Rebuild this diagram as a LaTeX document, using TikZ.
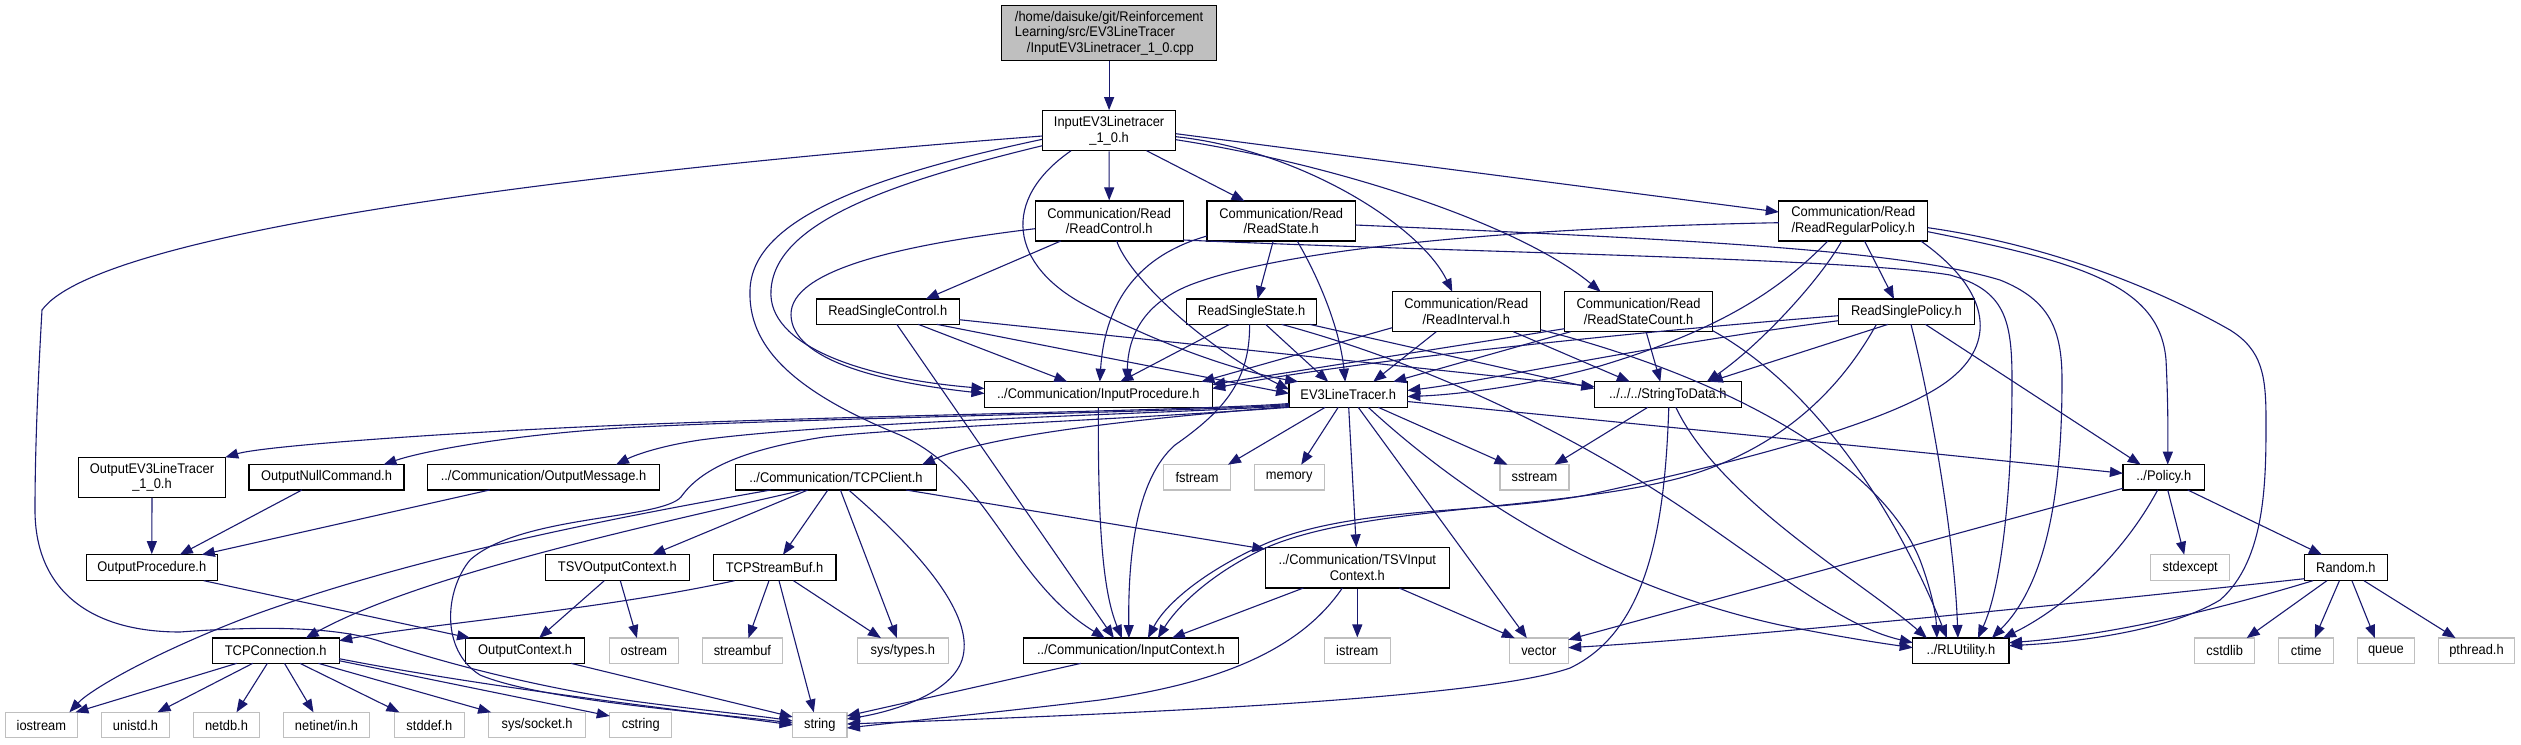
\documentclass[tikz,border=0pt]{standalone}
\usepackage{fontspec}
\setmainfont{Liberation Sans}[FakeStretch=0.92]
\usetikzlibrary{arrows.meta,calc}
\definecolor{edgecol}{HTML}{191970}
\definecolor{greyext}{HTML}{BFBFBF}
\begin{document}
\begin{tikzpicture}[x=1pt,y=-1pt,
  font=\fontsize{14}{15.5}\selectfont,
  doc/.style={draw=black,line width=1.2pt,fill=white,inner sep=0pt,align=center},
  ext/.style={draw=greyext,line width=1.2pt,fill=white,inner sep=0pt,align=center},
  conn/.style={draw=edgecol,line width=1.1pt,-{Triangle[length=13pt,width=10pt]}}]
\fill[white] (0,0) rectangle (2521,744);
\path[use as bounding box] (0,0) rectangle (2521,744);
% ---------- nodes ----------
\node[doc,fill=greyext,minimum width=215pt,minimum height=55pt,align=left] (root) at (1109.1,33.2) {/home/daisuke/git/Reinforcement\\Learning/src/EV3LineTracer\\\hspace*{12pt}/InputEV3Linetracer\_1\_0.cpp};
\node[doc,minimum width=133.5pt,minimum height=40pt] (ie) at (1109.1,130.7) {InputEV3Linetracer\\\_1\_0.h};
\node[doc,minimum width=148.2pt,minimum height=40pt] (rc) at (1109.2,221) {Communication/Read\\/ReadControl.h};
\node[doc,minimum width=148.5pt,minimum height=40pt] (rs) at (1281.2,221) {Communication/Read\\/ReadState.h};
\node[doc,minimum width=149pt,minimum height=40pt] (rrp) at (1853.3,221) {Communication/Read\\/ReadRegularPolicy.h};
\node[doc,minimum width=142.9pt,minimum height=25.3pt] (rsctl) at (887.8,311.7) {ReadSingleControl.h};
\node[doc,minimum width=130.2pt,minimum height=25.3pt] (rss) at (1251.6,311.7) {ReadSingleState.h};
\node[doc,minimum width=148.2pt,minimum height=40pt] (ri) at (1466.3,311.7) {Communication/Read\\/ReadInterval.h};
\node[doc,minimum width=148.2pt,minimum height=40pt] (rsc) at (1638.6,311.7) {Communication/Read\\/ReadStateCount.h};
\node[doc,minimum width=136pt,minimum height=25.3pt] (rsp) at (1906.4,311.7) {ReadSinglePolicy.h};
\node[doc,minimum width=227.7pt,minimum height=25.6pt] (ip) at (1098.3,394.5) {../Communication/InputProcedure.h};
\node[doc,minimum width=118.3pt,minimum height=25.6pt] (ev3) at (1348.2,394.5) {EV3LineTracer.h};
\node[doc,minimum width=146.9pt,minimum height=25.6pt] (std) at (1667.8,394.5) {../../../StringToData.h};
\node[doc,minimum width=146.5pt,minimum height=40pt] (oev) at (152,477.3) {OutputEV3LineTracer\\\_1\_0.h};
\node[doc,minimum width=155.1pt,minimum height=25.3pt] (onc) at (326.5,477.3) {OutputNullCommand.h};
\node[doc,minimum width=232.3pt,minimum height=25.3pt] (om) at (543.5,477.3) {../Communication/OutputMessage.h};
\node[doc,minimum width=200.8pt,minimum height=25.3pt] (tcpc) at (835.9,477.3) {../Communication/TCPClient.h};
\node[ext,minimum width=66.5pt,minimum height=25.3pt] (fstream) at (1197,477.3) {fstream};
\node[ext,minimum width=69.8pt,minimum height=25.3pt] (memory) at (1289.2,477.3) {memory};
\node[ext,minimum width=69pt,minimum height=25.3pt] (sstream) at (1534.5,477.3) {sstream};
\node[doc,minimum width=81.6pt,minimum height=25.3pt] (pol) at (2163.7,477.3) {../Policy.h};
\node[doc,minimum width=130.6pt,minimum height=26pt] (op) at (151.8,567.7) {OutputProcedure.h};
\node[doc,minimum width=144pt,minimum height=26pt] (tsvo) at (617.3,567.7) {TSVOutputContext.h};
\node[doc,minimum width=122.8pt,minimum height=26pt] (tcpsb) at (774.5,567.7) {TCPStreamBuf.h};
\node[doc,minimum width=184pt,minimum height=40.7pt] (tsvi) at (1357.3,567.7) {../Communication/TSVInput\\Context.h};
\node[ext,minimum width=79.2pt,minimum height=26pt] (stdexcept) at (2190.2,567.7) {stdexcept};
\node[doc,minimum width=82.8pt,minimum height=26pt] (rand) at (2345.9,567.7) {Random.h};
\node[doc,minimum width=127pt,minimum height=25.3pt] (tcpconn) at (275.7,650.7) {TCPConnection.h};
\node[doc,minimum width=118.8pt,minimum height=25.3pt] (oc) at (525.1,650.7) {OutputContext.h};
\node[ext,minimum width=69pt,minimum height=25.3pt] (ostream) at (643.9,650.7) {ostream};
\node[ext,minimum width=80pt,minimum height=25.3pt] (streambuf) at (742.4,650.7) {streambuf};
\node[ext,minimum width=90.6pt,minimum height=25.3pt] (systypes) at (902.9,650.7) {sys/types.h};
\node[doc,minimum width=215.1pt,minimum height=25.3pt] (ic) at (1130.9,650.7) {../Communication/InputContext.h};
\node[ext,minimum width=65.7pt,minimum height=25.3pt] (istream) at (1357.3,650.7) {istream};
\node[ext,minimum width=58.8pt,minimum height=25.3pt] (vector) at (1538.8,650.7) {vector};
\node[doc,minimum width=96.3pt,minimum height=25.3pt] (rlu) at (1960.9,650.7) {../RLUtility.h};
\node[ext,minimum width=60pt,minimum height=25.3pt] (cstdlib) at (2224.7,650.7) {cstdlib};
\node[ext,minimum width=54.7pt,minimum height=25.3pt] (ctime) at (2306.2,650.7) {ctime};
\node[ext,minimum width=57.6pt,minimum height=25.3pt] (queue) at (2385.9,650.7) {queue};
\node[ext,minimum width=76.3pt,minimum height=25.3pt] (pthread) at (2476.5,650.7) {pthread.h};
\node[ext,minimum width=72.3pt,minimum height=25.4pt] (iostream) at (41.4,725) {iostream};
\node[ext,minimum width=68.6pt,minimum height=25.4pt] (unistd) at (135.5,725) {unistd.h};
\node[ext,minimum width=65.3pt,minimum height=25.4pt] (netdb) at (226.5,725) {netdb.h};
\node[ext,minimum width=86.5pt,minimum height=25.4pt] (netinet) at (326.5,725) {netinet/in.h};
\node[ext,minimum width=69.4pt,minimum height=25.4pt] (stddef) at (429.4,725) {stddef.h};
\node[ext,minimum width=97.1pt,minimum height=25.4pt] (syssocket) at (537.1,725) {sys/socket.h};
\node[ext,minimum width=62pt,minimum height=25.4pt] (cstring) at (640.8,725) {cstring};
\node[ext,minimum width=54.2pt,minimum height=25.4pt] (string) at (819.8,725) {string};
% ---------- edges ----------
\draw[conn] (root.south) -- (ie.north);
% from InputEV3Linetracer_1_0.h
\draw[conn] (ie.south) -- (rc.north);
\draw[conn] ($(ie)+(37.4,20)$) -- ($(rs)+(-36.7,-20)$);
\draw[conn] ($(ie)+(66.75,6)$) .. controls (1300,150) and (1420,225) .. ($(ri)+(-14,-20)$);
\draw[conn] ($(ie)+(66.75,9)$) .. controls (1340,165) and (1520,225) .. ($(rsc)+(-38,-20)$);
\draw[conn] ($(ie)+(66.75,3)$) -- ($(rrp)+(-74.5,-9)$);
\draw[conn] ($(ie)+(-38,20)$) .. controls (1000,200) and (1010,265) .. (1085,305) .. controls (1160,345) and (1240,372) .. ($(ev3)+(-50,-12.8)$);
\draw[conn] ($(ie)+(-66.75,15)$) .. controls (880,185) and (775,225) .. (771,290) .. controls (767,345) and (860,378) .. ($(ip)+(-113.85,-6)$);
\draw[conn] ($(ie)+(-66.75,8.6)$) .. controls (850,180) and (752,225) .. (750,290) .. controls (748,345) and (790,390) .. (900,435) .. controls (990,475) and (1010,580) .. ($(ic)+(-26,-12.65)$);
\draw[conn] ($(ie)+(-66.75,5.3)$) .. controls (600,170) and (100,230) .. (42,310) .. controls (38,380) and (35,450) .. (35,510) .. controls (35,590) and (90,632) .. (180,632) .. controls (260,626) and (340,626) .. (385,643) .. controls (450,665) and (550,690) .. (640,702) .. controls (700,710) and (760,716) .. ($(string)+(-27.1,-4)$);
% from ReadControl.h
\draw[conn] ($(rc)+(-48.4,20)$) -- ($(rsctl)+(38,-12.65)$);
\draw[conn] ($(rc)+(-74.1,7.7)$) .. controls (900,245) and (790,270) .. (791,315) .. controls (792,360) and (880,382) .. ($(ip)+(-113.85,-1)$);
\draw[conn] ($(rc)+(7.5,20)$) .. controls (1128,275) and (1200,345) .. ($(ev3)+(-59.15,-5)$);
\draw[conn] ($(rc)+(74.1,19)$) .. controls (1450,252) and (1850,258) .. (1950,275) .. controls (2005,290) and (2012,320) .. (2012,380) .. controls (2012,500) and (2000,590) .. ($(rlu)+(17,-12.65)$);
% from ReadState.h
\draw[conn] ($(rs)+(-8,20)$) -- ($(rss)+(6,-12.65)$);
\draw[conn] ($(rs)+(-74.25,15)$) .. controls (1140,255) and (1105,300) .. ($(ip)+(1.5,-12.8)$);
\draw[conn] ($(rs)+(16,20)$) .. controls (1320,280) and (1340,330) .. ($(ev3)+(-3,-12.8)$);
\draw[conn] ($(rs)+(74.25,4)$) .. controls (1700,240) and (1900,250) .. (2000,280) .. controls (2050,300) and (2062,330) .. (2062,380) .. controls (2062,480) and (2050,580) .. ($(rlu)+(31,-12.65)$);
% from ReadRegularPolicy.h
\draw[conn] ($(rrp)+(11.2,20)$) -- ($(rsp)+(-12.4,-12.65)$);
\draw[conn] ($(rrp)+(74.5,6.7)$) .. controls (2050,245) and (2160,290) .. (2230,330) .. controls (2262,350) and (2266,375) .. (2266,420) .. controls (2266,480) and (2266,560) .. (2220,600) .. controls (2170,630) and (2080,642) .. ($(rlu)+(48.15,-5)$);
\draw[conn] ($(rrp)+(74.5,10.7)$) .. controls (2080,262) and (2160,285) .. (2166,360) .. controls (2168,400) and (2168,430) .. ($(pol)+(4,-12.65)$);
\draw[conn] ($(rrp)+(-74.5,1.7)$) .. controls (1500,228) and (1280,250) .. (1190,285) .. controls (1140,305) and (1128,340) .. ($(ip)+(28.7,-12.8)$);
\draw[conn] ($(rrp)+(-11.6,20)$) .. controls (1820,280) and (1760,345) .. ($(std)+(39,-12.8)$);
\draw[conn] ($(rrp)+(-25.5,20)$) .. controls (1780,290) and (1720,330) .. (1600,366) .. controls (1520,388) and (1450,395) .. ($(ev3)+(59.15,2)$);
\draw[conn] ($(rrp)+(67.5,20)$) .. controls (1990,290) and (1995,340) .. (1955,375) .. controls (1900,425) and (1700,470) .. (1587,495) .. controls (1480,515) and (1340,505) .. (1252,550) .. controls (1200,575) and (1165,605) .. ($(ic)+(17,-12.65)$);
% from ReadSinglePolicy.h
\draw[conn] ($(rsp)+(-30,12.65)$) .. controls (1840,390) and (1780,450) .. (1680,478) .. controls (1550,512) and (1350,505) .. (1257,552) .. controls (1205,578) and (1175,610) .. ($(ic)+(27,-12.65)$);
\draw[conn] ($(rsp)+(-18.4,12.65)$) -- ($(std)+(42,-12.8)$);
\draw[conn] ($(rsp)+(-68,4)$) .. controls (1600,335) and (1350,362) .. ($(ip)+(113.85,-6)$);
\draw[conn] ($(rsp)+(-68,9)$) .. controls (1650,345) and (1480,382) .. ($(ev3)+(59.15,-4)$);
\draw[conn] ($(rsp)+(19,12.65)$) -- ($(pol)+(-23,-12.65)$);
\draw[conn] ($(rsp)+(4.6,12.65)$) .. controls (1935,420) and (1955,550) .. ($(rlu)+(-3,-12.65)$);
% from ReadInterval.h
\draw[conn] ($(ri)+(-74.1,16)$) -- ($(ip)+(103,-12.8)$);
\draw[conn] ($(ri)+(-30,20)$) -- ($(ev3)+(25,-12.8)$);
\draw[conn] ($(ri)+(47,20)$) -- ($(std)+(-38,-12.8)$);
\draw[conn] ($(ri)+(74.1,18)$) .. controls (1720,375) and (1880,460) .. (1920,560) .. controls (1932,592) and (1936,615) .. ($(rlu)+(-24,-12.65)$);
% from ReadStateCount.h
\draw[conn] ($(rsc)+(-74.1,17)$) -- ($(ip)+(113.85,-10)$);
\draw[conn] ($(rsc)+(-68,20)$) -- ($(ev3)+(45,-12.8)$);
\draw[conn] ($(rsc)+(7.5,20)$) -- ($(std)+(-7.5,-12.8)$);
\draw[conn] ($(rsc)+(74.1,19)$) .. controls (1820,390) and (1900,520) .. ($(rlu)+(-14,-12.65)$);
% from ReadSingleControl.h
\draw[conn] ($(rsctl)+(30.5,12.65)$) -- ($(ip)+(-31,-12.8)$);
\draw[conn] ($(rsctl)+(49,12.65)$) -- ($(ev3)+(-59.15,-1)$);
\draw[conn] ($(rsctl)+(71.45,8)$) -- ($(std)+(-73.45,-8)$);
\draw[conn] ($(rsctl)+(9,12.65)$) -- ($(ic)+(-17,-12.65)$);
% from ReadSingleState.h
\draw[conn] ($(rss)+(-22,12.65)$) -- ($(ip)+(22,-12.8)$);
\draw[conn] ($(rss)+(-2,12.65)$) .. controls (1250,380) and (1225,410) .. (1175,445) .. controls (1135,480) and (1128,560) .. ($(ic)+(-2,-12.65)$);
\draw[conn] ($(rss)+(14,12.65)$) -- ($(ev3)+(-20,-12.8)$);
\draw[conn] ($(rss)+(58,12.65)$) -- ($(std)+(-73.45,-6)$);
\draw[conn] ($(rss)+(30,12.65)$) .. controls (1450,370) and (1600,450) .. (1700,520) .. controls (1800,590) and (1850,628) .. ($(rlu)+(-48.15,-8)$);
% InputProcedure
\draw[conn] (ip.south) .. controls (1098,520) and (1102,590) .. ($(ic)+(-9,-12.65)$);
% from EV3LineTracer.h
\draw[conn] ($(ev3)+(-59.15,9)$) .. controls (1200,411) and (800,416) .. (560,428) .. controls (400,436) and (260,447) .. ($(oev)+(73.25,-20)$);
\draw[conn] ($(ev3)+(-59.15,10)$) .. controls (1200,412) and (800,418) .. (620,428) .. controls (500,436) and (420,452) .. ($(onc)+(57,-12.65)$);
\draw[conn] ($(ev3)+(-59.15,11)$) .. controls (1200,413) and (850,420) .. (700,440) .. controls (660,446) and (635,455) .. ($(om)+(72.5,-12.65)$);
\draw[conn] ($(ev3)+(-59.15,12)$) .. controls (1200,414) and (1000,430) .. ($(tcpc)+(86,-12.65)$);
\draw[conn] ($(ev3)+(-59.15,12.8)$) .. controls (1150,418) and (900,428) .. (824,437) .. controls (740,450) and (700,470) .. (681,497) .. controls (660,520) and (520,515) .. (470,560) .. controls (445,590) and (440,650) .. (480,675) .. controls (540,700) and (700,712) .. ($(string)+(-27.1,-2)$);
\draw[conn] ($(ev3)+(-23,12.8)$) -- ($(fstream)+(31,-12.65)$);
\draw[conn] ($(ev3)+(-10,12.8)$) -- ($(memory)+(12,-12.65)$);
\draw[conn] ($(ev3)+(30,12.8)$) -- ($(sstream)+(-27,-12.65)$);
\draw[conn] ($(ev3)+(0.5,12.8)$) -- ($(tsvi)+(-1,-20.35)$);
\draw[conn] ($(ev3)+(10,12.8)$) -- ($(vector)+(-12,-12.65)$);
\draw[conn] ($(ev3)+(59.15,7)$) .. controls (1700,430) and (1950,455) .. ($(pol)+(-40.8,-4)$);
\draw[conn] ($(ev3)+(20,12.8)$) .. controls (1480,510) and (1620,590) .. (1780,625) .. controls (1840,637) and (1880,643) .. ($(rlu)+(-48.15,-3)$);
% from StringToData.h
\draw[conn] ($(std)+(-20,12.8)$) -- ($(sstream)+(20,-12.65)$);
\draw[conn] ($(std)+(1,12.8)$) .. controls (1665,520) and (1650,630) .. (1570,668) .. controls (1480,700) and (1100,715) .. ($(string)+(27.1,-1)$);
\draw[conn] ($(std)+(8,12.8)$) .. controls (1720,500) and (1860,580) .. ($(rlu)+(-34,-12.65)$);
% output side
\draw[conn] (oev.south) -- (op.north);
\draw[conn] ($(onc)+(-24.5,12.65)$) -- ($(op)+(28,-13)$);
\draw[conn] ($(om)+(-53.7,12.65)$) -- ($(op)+(50,-13)$);
\draw[conn] ($(op)+(52,13)$) -- ($(oc)+(-55,-12.65)$);
% from TCPClient.h
\draw[conn] ($(tcpc)+(-64.9,12.65)$) .. controls (600,520) and (400,560) .. (240,620) .. controls (150,655) and (90,690) .. ($(iostream)+(28,-12.7)$);
\draw[conn] ($(tcpc)+(-32,12.65)$) .. controls (650,525) and (420,575) .. ($(tcpconn)+(30,-12.65)$);
\draw[conn] ($(tcpc)+(-28,12.65)$) -- ($(tsvo)+(35,-13)$);
\draw[conn] ($(tcpc)+(-8,12.65)$) -- ($(tcpsb)+(8.5,-13)$);
\draw[conn] ($(tcpc)+(4.5,12.65)$) -- ($(systypes)+(-6,-12.65)$);
\draw[conn] ($(tcpc)+(12.7,12.65)$) .. controls (930,560) and (975,620) .. (962,660) .. controls (950,695) and (890,712) .. ($(string)+(27.1,-6)$);
\draw[conn] ($(tcpc)+(70,12.65)$) -- ($(tsvi)+(-92,-18.5)$);
% TSVOutputContext / TCPStreamBuf
\draw[conn] ($(tsvo)+(-13,13)$) -- ($(oc)+(14,-12.65)$);
\draw[conn] ($(tsvo)+(3,13)$) -- ($(ostream)+(-7,-12.65)$);
\draw[conn] ($(tcpsb)+(-40,13)$) .. controls (600,610) and (420,625) .. ($(tcpconn)+(63.5,-10)$);
\draw[conn] ($(tcpsb)+(-5.5,13)$) -- ($(streambuf)+(6,-12.65)$);
\draw[conn] ($(tcpsb)+(4.5,13)$) -- ($(string)+(-6,-12.7)$);
\draw[conn] ($(tcpsb)+(19,13)$) -- ($(systypes)+(-22,-12.65)$);
% contexts
\draw[conn] ($(oc)+(46,12.65)$) -- ($(string)+(-27.1,-8)$);
\draw[conn] ($(ic)+(-50,12.65)$) -- ($(string)+(27.1,-9)$);
\draw[conn] ($(tsvi)+(-54,20.35)$) -- ($(ic)+(41,-12.65)$);
\draw[conn] (tsvi.south) -- (istream.north);
\draw[conn] ($(tsvi)+(42,20.35)$) -- ($(vector)+(-24,-12.65)$);
\draw[conn] ($(tsvi)+(-15,20.35)$) .. controls (1300,650) and (1220,683) .. (1100,700) .. controls (1000,712) and (900,722) .. ($(string)+(27.1,3)$);
% from TCPConnection.h
\draw[conn] ($(tcpconn)+(-39,12.65)$) -- ($(iostream)+(34,-12.7)$);
\draw[conn] ($(tcpconn)+(-23,12.65)$) -- ($(unistd)+(22,-12.7)$);
\draw[conn] ($(tcpconn)+(-8.3,12.65)$) -- ($(netdb)+(10,-12.7)$);
\draw[conn] ($(tcpconn)+(8.8,12.65)$) -- ($(netinet)+(-13,-12.7)$);
\draw[conn] ($(tcpconn)+(24.3,12.65)$) -- ($(stddef)+(-30,-12.7)$);
\draw[conn] ($(tcpconn)+(42.7,12.65)$) -- ($(syssocket)+(-46,-12.7)$);
\draw[conn] ($(tcpconn)+(63.5,10)$) -- ($(cstring)+(-31,-9)$);
\draw[conn] ($(tcpconn)+(63.5,8)$) .. controls (500,690) and (700,712) .. ($(string)+(-27.1,0)$);
% from Policy.h
\draw[conn] ($(pol)+(4,12.65)$) -- ($(stdexcept)+(-6,-13)$);
\draw[conn] ($(pol)+(24,12.65)$) -- ($(rand)+(-24,-13)$);
\draw[conn] ($(pol)+(-40.8,11)$) -- ($(vector)+(29.4,-11)$);
\draw[conn] ($(pol)+(-6,12.65)$) .. controls (2120,560) and (2060,610) .. ($(rlu)+(42,-12.65)$);
% from Random.h
\draw[conn] ($(rand)+(-19,13)$) -- ($(cstdlib)+(22,-12.65)$);
\draw[conn] ($(rand)+(-6.5,13)$) -- ($(ctime)+(8.5,-12.65)$);
\draw[conn] ($(rand)+(6,13)$) -- ($(queue)+(-11,-12.65)$);
\draw[conn] ($(rand)+(18,13)$) -- ($(pthread)+(-21,-12.65)$);
\draw[conn] ($(rand)+(-41.4,11)$) .. controls (2000,612) and (1700,640) .. ($(vector)+(29.4,-3)$);
\draw[conn] ($(rand)+(-33,13)$) .. controls (2200,615) and (2100,636) .. ($(rlu)+(48.15,-8)$);
\end{tikzpicture}
\end{document}
